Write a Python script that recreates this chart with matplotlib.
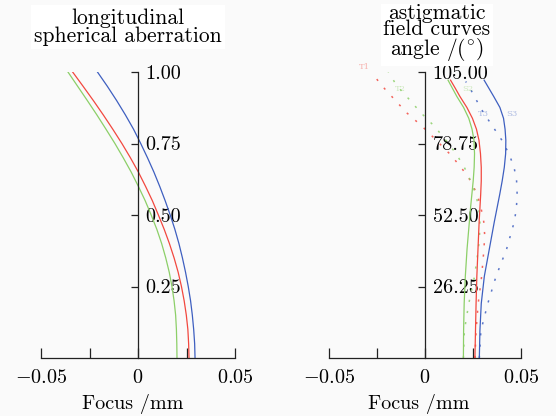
import matplotlib
matplotlib.use("Agg")
import matplotlib.pyplot as plt
from matplotlib.ticker import FixedLocator, FixedFormatter

plt.rcParams["font.family"] = ["cmr10", "DejaVu Serif"]
plt.rcParams["mathtext.fontset"] = "cm"
plt.rcParams["axes.formatter.use_mathtext"] = True

# ---- longitudinal spherical aberration (relative pupil height vs focus, mm)
pupil = [0.0, 0.05, 0.10, 0.15, 0.20, 0.25, 0.30, 0.35, 0.40, 0.45, 0.50,
         0.55, 0.60, 0.65, 0.70, 0.75, 0.80, 0.85, 0.90, 0.95, 1.00]
lsa_blue = [0.0294, 0.0292, 0.0287, 0.0280, 0.0271, 0.0259, 0.0245, 0.0229, 0.0211, 0.0190, 0.0166,
            0.0140, 0.0112, 0.0082, 0.0049, 0.0014, -0.0023, -0.0065, -0.0110, -0.0158, -0.0209]
lsa_red = [0.0263, 0.0261, 0.0257, 0.0249, 0.0238, 0.0224, 0.0207, 0.0186, 0.0162, 0.0135, 0.0105,
           0.0074, 0.0039, 0.0002, -0.0039, -0.0083, -0.0130, -0.0179, -0.0230, -0.0283, -0.0337]
lsa_green = [0.0201, 0.0200, 0.0198, 0.0194, 0.0186, 0.0175, 0.0161, 0.0143, 0.0122, 0.0097, 0.0068,
             0.0037, 0.0002, -0.0035, -0.0076, -0.0119, -0.0165, -0.0212, -0.0261, -0.0311, -0.0361]

# ---- astigmatic field curves (field angle in degrees vs focus, mm)
angle_s = [0, 10, 20, 30, 40, 50, 55, 60, 65, 70, 75, 80, 84, 88, 92, 96, 99, 102]
s1_red = [0.0260, 0.0263, 0.0266, 0.0270, 0.0276, 0.0282, 0.0286, 0.0290, 0.0293, 0.0293, 0.0289,
          0.0281, 0.0268, 0.0247, 0.0218, 0.0182, 0.0158, 0.0133]
s2_green = [0.0200, 0.0201, 0.0204, 0.0210, 0.0219, 0.0231, 0.0237, 0.0244, 0.0251, 0.0256, 0.0258,
            0.0255, 0.0245, 0.0228, 0.0201, 0.0166, 0.0143, 0.0120]
s3_blue = [0.0283, 0.0286, 0.0293, 0.0309, 0.0335, 0.0361, 0.0375, 0.0389, 0.0402, 0.0413, 0.0420,
           0.0421, 0.0417, 0.0409, 0.0390, 0.0358, 0.0333, 0.0308]

angle_t = [0, 10, 20, 30, 40, 45, 50, 55, 60, 65, 70, 75, 80, 85, 90, 95, 100, 105]
t1_red = [0.0260, 0.0266, 0.0277, 0.0295, 0.0307, 0.0311, 0.0306, 0.0292, 0.0272, 0.0238, 0.0188,
          0.0128, 0.0058, -0.0014, -0.0095, -0.0160, -0.0225, -0.0280]
t2_green = [0.0200, 0.0205, 0.0228, 0.0258, 0.0278, 0.0284, 0.0286, 0.0280, 0.0265, 0.0238, 0.0205,
            0.0162, 0.0108, 0.0050, -0.0021, -0.0083, -0.0147, -0.0191]
angle_t3 = [0, 10, 20, 30, 40, 45, 50, 55, 60, 65, 70, 75, 80, 85, 90, 95, 100, 101.5]
t3_blue = [0.0283, 0.0291, 0.0327, 0.0370, 0.0425, 0.0445, 0.0465, 0.0476, 0.0480, 0.0477, 0.0464,
           0.0437, 0.0400, 0.0353, 0.0305, 0.0265, 0.0227, 0.0212]

x_ticks = [-0.05, 0.0, 0.05]
x_ticklabels = [r"$-0.05$", r"$0$", r"$0.05$"]
lsa_ticks = [0.25, 0.50, 0.75, 1.00]
lsa_ticklabels = ["0.25", "0.50", "0.75", "1.00"]
fc_ticks = [26.25, 52.50, 78.75, 105.00]
fc_ticklabels = ["26.25", "52.50", "78.75", "105.00"]

curve_labels = ["T1", "T2", "S2", "T3", "S3"]
curve_label_x = [-0.0318, -0.0130, 0.0224, 0.0302, 0.0453]
curve_label_y = [107.0, 98.8, 98.8, 89.6, 89.6]

BLUE = "#3e5fc0"
RED = "#f2483f"
GREEN = "#8ccf68"

W, H = 556, 416
fig = plt.figure(figsize=(W / 100, H / 100), dpi=100, facecolor="#fafafa")
ax1 = fig.add_axes([41 / W, 1 - 358 / H, 194 / W, 286 / H])
ax2 = fig.add_axes([329 / W, 1 - 358 / H, 192 / W, 286 / H])


def style_axes(ax, ymax, yticks, yticklabels):
    ax.set_facecolor("none")
    ax.set_xlim(-0.05, 0.05)
    ax.set_ylim(0, ymax)
    ax.spines["top"].set_visible(False)
    ax.spines["left"].set_position(("data", 0))
    ax.spines["right"].set_position(("data", 0))
    ax.spines["right"].set_visible(False)
    for s in ("left", "bottom"):
        ax.spines[s].set_color("#222222")
        ax.spines[s].set_linewidth(0.9)
    ax.xaxis.set_major_locator(FixedLocator(x_ticks))
    ax.xaxis.set_major_formatter(FixedFormatter(x_ticklabels))
    ax.xaxis.set_minor_locator(FixedLocator([-0.025, 0.025]))
    ax.tick_params(axis="x", which="both", direction="in", length=7, width=0.9,
                   color="#222222", labelsize=14.5, pad=8)
    ax.yaxis.set_major_locator(FixedLocator(yticks))
    ax.yaxis.set_major_formatter(FixedFormatter(yticklabels))
    ax.yaxis.set_ticks_position("both")
    ax.tick_params(axis="y", which="major", left=True, right=False, labelleft=False,
                   labelright=True, direction="out", length=5, width=0.9,
                   color="#222222", labelsize=14.5, pad=0.5)
    ax.set_xlabel("Focus /mm", fontsize=14.5)


style_axes(ax1, 1.0, lsa_ticks, lsa_ticklabels)
style_axes(ax2, 105.0, fc_ticks, fc_ticklabels)
ax1.xaxis.set_label_coords(0.474, -0.125)
ax2.xaxis.set_label_coords(0.469, -0.125)

lw = 0.9
ax1.plot(lsa_green, pupil, color=GREEN, lw=lw)
ax1.plot(lsa_red, pupil, color=RED, lw=lw)
ax1.plot(lsa_blue, pupil, color=BLUE, lw=lw)

dots = (0, (1.4, 6.0))
ax2.plot(t1_red, angle_t, color=RED, lw=1.1, ls=dots, alpha=0.85)
ax2.plot(t2_green, angle_t, color=GREEN, lw=1.1, ls=dots, alpha=0.85)
ax2.plot(t3_blue, angle_t3, color=BLUE, lw=1.1, ls=dots, alpha=0.85)
ax2.plot(s2_green, angle_s, color=GREEN, lw=lw)
ax2.plot(s1_red, angle_s, color=RED, lw=lw)
ax2.plot(s3_blue, angle_s, color=BLUE, lw=lw)

label_colors = [RED, GREEN, GREEN, BLUE, BLUE]
for txt, x, y, c in zip(curve_labels, curve_label_x, curve_label_y, label_colors):
    ax2.text(x, y, txt, color=c, alpha=0.4, fontsize=6, ha="center", va="center",
             family=["DejaVu Serif"])

title_box = dict(facecolor="white", edgecolor="none", pad=2)
fig.text(128 / W, 1 - 27 / H, "longitudinal\nspherical aberration", ha="center",
         va="center", fontsize=15.5, linespacing=0.92, bbox=title_box)
fig.text(437 / W, 1 - 33 / H, "astigmatic\nfield curves\n" + r"angle /($^{\circ}$)",
         ha="center", va="center", fontsize=15.5, linespacing=0.82, bbox=title_box)

fig.savefig("out.png", dpi=100, facecolor=fig.get_facecolor())
